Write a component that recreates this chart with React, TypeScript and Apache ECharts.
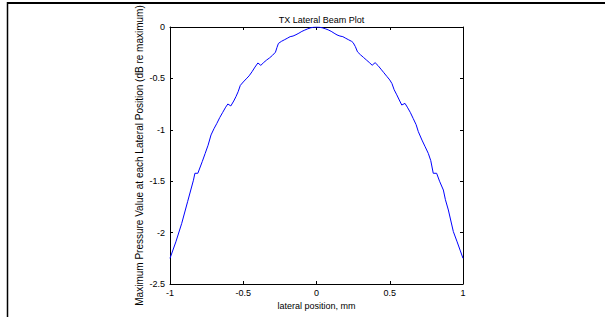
import React, { useEffect, useRef } from "react";
import * as echarts from "echarts";

const positions: number[] = [
  -1, -0.96, -0.92, -0.88, -0.84, -0.83, -0.81, -0.78, -0.76, -0.74, -0.72, -0.7, -0.68, -0.66, -0.64, -0.62,
  -0.605, -0.585, -0.565, -0.55, -0.535, -0.52, -0.5, -0.48, -0.46, -0.44, -0.42, -0.4, -0.38, -0.36, -0.34,
  -0.32, -0.3, -0.28, -0.27, -0.26, -0.24, -0.22, -0.2, -0.18, -0.16, -0.14, -0.12, -0.1, -0.08, -0.06, -0.04,
  -0.02, 0,
  0.02, 0.04, 0.06, 0.08, 0.1, 0.12, 0.14, 0.16, 0.18, 0.2, 0.22, 0.24, 0.25, 0.265, 0.28, 0.3, 0.32, 0.34,
  0.36, 0.38, 0.4, 0.42, 0.44, 0.46, 0.48, 0.5, 0.515, 0.53, 0.548, 0.565, 0.582, 0.604, 0.62, 0.64, 0.66,
  0.68, 0.695, 0.72, 0.74, 0.763, 0.78, 0.797, 0.82, 0.84, 0.866, 0.88, 0.9, 0.934, 0.96, 0.98, 1,
];

const pressureDb: number[] = [
  -2.25, -2.09, -1.91, -1.7, -1.49, -1.423, -1.423, -1.31, -1.23, -1.15, -1.05, -0.99, -0.937, -0.88, -0.83, -0.78,
  -0.749, -0.768, -0.72, -0.678, -0.63, -0.568, -0.535, -0.505, -0.475, -0.435, -0.39, -0.35, -0.373, -0.345, -0.321,
  -0.3, -0.275, -0.245, -0.2, -0.16, -0.14, -0.125, -0.11, -0.094, -0.088, -0.075, -0.06, -0.043, -0.03, -0.018, -0.008,
  -0.002, 0,
  -0.002, -0.008, -0.017, -0.028, -0.042, -0.06, -0.077, -0.088, -0.094, -0.11, -0.125, -0.14, -0.152, -0.19, -0.242, -0.27, -0.295, -0.32,
  -0.345, -0.372, -0.347, -0.375, -0.41, -0.445, -0.48, -0.515, -0.55, -0.61, -0.66, -0.71, -0.759, -0.743, -0.78, -0.83, -0.89,
  -0.95, -1.018, -1.1, -1.16, -1.229, -1.3, -1.423, -1.423, -1.5, -1.586, -1.68, -1.78, -1.99, -2.09, -2.17, -2.25,
];

const titleText = "TX Lateral Beam Plot";
const xLabel = "lateral position, mm";
const yLabel = "Maximum Pressure Value at each Lateral Position (dB re maximum)";

const FONT = "Liberation Sans, Arial, sans-serif";

export default function App() {
  const ref = useRef<HTMLDivElement>(null);
  useEffect(() => {
    if (!ref.current) return;
    const chart = echarts.init(ref.current, undefined, { renderer: "svg" });
    const data = positions.map((p, i) => [p, pressureDb[i]]);
    const gridLeft = 170, gridTop = 27, gridW = 293, gridH = 257;
    const labelStyle = { color: "#000", fontFamily: FONT, fontSize: 9 };
    const lineStyle = { color: "#000", width: 1 };
    chart.setOption({
      animation: false,
      backgroundColor: "#fff",
      title: {
        text: titleText,
        left: gridLeft + gridW / 2,
        textAlign: "center",
        top: 10,
        textStyle: { color: "#000", fontFamily: FONT, fontSize: 9, fontWeight: "normal" },
      },
      grid: { left: gridLeft, top: gridTop, width: gridW, height: gridH },
      xAxis: [
        {
          type: "value", min: -1, max: 1, interval: 0.5, position: "bottom",
          axisLine: { show: true, onZero: false, lineStyle }, axisTick: { show: true, inside: true, length: 3, lineStyle },
          axisLabel: { ...labelStyle, margin: 4 }, splitLine: { show: false },
          name: xLabel, nameLocation: "middle", nameGap: 17,
          nameTextStyle: { color: "#000", fontFamily: FONT, fontSize: 9 },
        },
        {
          type: "value", min: -1, max: 1, interval: 0.5, position: "top",
          axisLine: { show: true, onZero: false, lineStyle }, axisTick: { show: true, inside: true, length: 3, lineStyle },
          axisLabel: { show: false }, splitLine: { show: false },
        },
      ],
      yAxis: [
        {
          type: "value", min: -2.5, max: 0, interval: 0.5, position: "left",
          axisLine: { show: true, onZero: false, lineStyle }, axisTick: { show: true, inside: true, length: 3, lineStyle },
          axisLabel: { ...labelStyle, margin: 5 }, splitLine: { show: false },
          name: yLabel, nameLocation: "middle", nameGap: 26,
          nameTextStyle: { color: "#000", fontFamily: FONT, fontSize: 10 },
        },
        {
          type: "value", min: -2.5, max: 0, interval: 0.5, position: "right",
          axisLine: { show: true, onZero: false, lineStyle }, axisTick: { show: true, inside: true, length: 3, lineStyle },
          axisLabel: { show: false }, splitLine: { show: false },
        },
      ],
      series: [
        {
          type: "line", data, xAxisIndex: 0, yAxisIndex: 0, showSymbol: false, symbol: "none",
          lineStyle: { color: "#0000ff", width: 1 }, clip: true,
        },
      ],
      graphic: [
        { type: "line", shape: { x1: 7, y1: 3, x2: 605, y2: 3 }, style: { stroke: "#000", lineWidth: 2 } },
        { type: "line", shape: { x1: 7.5, y1: 2, x2: 7.5, y2: 317 }, style: { stroke: "#000", lineWidth: 1.5 } },
      ],
    });
    return () => chart.dispose();
  }, []);
  return (
    <div
      ref={ref}
      style={{ position: "fixed", left: 0, top: 0, width: 605, height: 317, background: "#fff" }}
    />
  );
}
